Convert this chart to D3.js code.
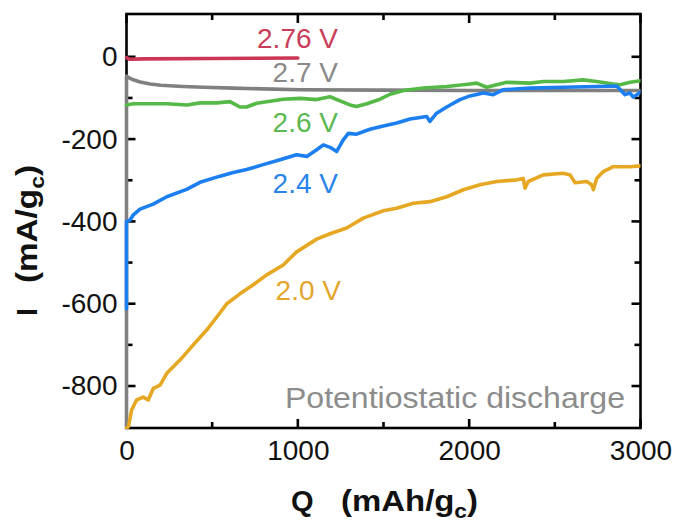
<!DOCTYPE html>
<html>
<head>
<meta charset="utf-8">
<script src="https://cdn.jsdelivr.net/npm/d3@7"></script>
<style>
  body { margin: 0; background: #fff; }
  svg text { font-family: "Liberation Sans", Arial, sans-serif; }
</style>
</head>
<body>
<div id="chart"></div>
<script>
// 1. Data (Q in mAh/gc, I in mA/gc)
const q276 = [0, 20, 100, 500, 1000];
const i276 = [-2, -6, -5, -4, -3];

const q27 = [0, 0, 10, 40, 80, 137, 200, 330, 450, 623, 800, 1013, 1500, 2000, 2500, 3000];
const i27 = [-902, -47, -50, -56, -61, -66, -69, -72, -74, -76, -78, -80, -81, -82, -82, -82];

const q26 = [0, 40, 236, 353, 430, 527, 604, 662, 701, 759, 818, 915, 1013, 1110, 1188, 1246, 1304, 1343, 1402, 1480,
  1538, 1616, 1732, 1869, 2005, 2044, 2102, 2161, 2219, 2355, 2433, 2550, 2666, 2744, 2841, 2880, 2939, 3000];
const i26 = [-117, -114, -114, -117, -112, -112, -109, -122, -122, -113, -109, -103, -101, -104, -97, -107, -117, -121, -114, -103,
  -91, -82, -76, -72, -66, -64, -74, -68, -62, -64, -60, -60, -56, -60, -66, -68, -62, -58];

const q24 = [0, 0, 20, 40, 79, 156, 235, 351, 429, 546, 623, 701, 798, 896, 993, 1052, 1110, 1149, 1188, 1227, 1265, 1295,
  1343, 1421, 1499, 1577, 1655, 1752, 1771, 1810, 1869, 1946, 2005, 2083, 2141, 2199, 2355, 2550, 2744, 2861, 2910, 2939, 2958, 3000];
const i24 = [-612, -400, -397, -384, -370, -358, -340, -322, -305, -290, -281, -274, -262, -250, -238, -242, -226, -214, -220, -230, -202, -186,
  -188, -176, -168, -161, -151, -145, -157, -137, -122, -104, -95, -88, -92, -80, -76, -74, -72, -71, -92, -88, -98, -86];

const q20 = [0, 11, 30, 59, 98, 127, 156, 196, 235, 312, 390, 468, 546, 585, 662, 740, 818, 915, 993, 1110, 1188, 1285, 1382, 1499,
  1577, 1674, 1771, 1869, 1966, 2063, 2161, 2278, 2316, 2326, 2345, 2433, 2550, 2589, 2618, 2686, 2715, 2725, 2744, 2783, 2841, 2939, 3000];
const i20 = [-902, -899, -858, -834, -827, -834, -806, -798, -769, -737, -700, -664, -622, -600, -576, -554, -530, -506, -474, -443, -430, -416, -392, -374,
  -368, -356, -352, -340, -323, -311, -303, -299, -296, -319, -303, -287, -283, -287, -306, -303, -311, -323, -296, -279, -267, -267, -265];

const seriesNames = ["2.76 V", "2.7 V", "2.6 V", "2.4 V", "2.0 V"];
const seriesColors = ["#cc3553", "#808080", "#55b947", "#1b7ff0", "#e6a822"];
const labelColors = ["#c93d58", "#8a8a8a", "#5cb850", "#2a85ea", "#e3a62c"];

const xMajor = [0, 1000, 2000, 3000];
const xMinor = [500, 1500, 2500];
const yMajor = [0, -200, -400, -600, -800];
const yMinor = [-100, -300, -500, -700];

// 2. Layout
const W = 673, H = 521;
const mLeft = 126.5, mRight = 640.5, mTop = 14, mBottom = 428;

const x = d3.scaleLinear().domain([0, 3000]).range([mLeft, mRight]);
const y = d3.scaleLinear().domain([-902, 104]).range([mBottom, mTop]);

const svg = d3.select("#chart").append("svg")
  .attr("width", W).attr("height", H)
  .attr("viewBox", `0 0 ${W} ${H}`);

// clip a little wider than the frame so the curves running on the axis still show
svg.append("defs").append("clipPath").attr("id", "plot")
  .append("rect").attr("x", mLeft - 2.5).attr("y", mTop)
  .attr("width", mRight - mLeft + 2.5).attr("height", mBottom - mTop + 1);

// 3. Tick labels from the d3 axes, tick marks drawn inward on all sides
const labelStyle = (g) => {
  g.select(".domain").remove();
  g.selectAll(".tick line").remove();
  g.selectAll(".tick text").attr("font-size", 28).attr("fill", "#111");
};

svg.append("g").attr("transform", `translate(0,${mBottom})`)
  .call(d3.axisBottom(x).tickValues(xMajor).tickSize(0).tickPadding(12).tickFormat((d) => String(d)))
  .call(labelStyle);
svg.append("g").attr("transform", `translate(${mLeft},0)`)
  .call(d3.axisLeft(y).tickValues(yMajor).tickSize(0).tickPadding(9).tickFormat((d) => String(d)))
  .call(labelStyle);

const ticks = svg.append("g").attr("stroke", "#000").attr("stroke-width", 2.6);
const xTicks = xMajor.map((v) => [v, 9]).concat(xMinor.map((v) => [v, 6]));
const yTicks = yMajor.map((v) => [v, 9]).concat(yMinor.map((v) => [v, 6]));

xTicks.forEach(([v, len]) => {
  ticks.append("line").attr("x1", x(v)).attr("x2", x(v)).attr("y1", mBottom).attr("y2", mBottom - len);
  ticks.append("line").attr("x1", x(v)).attr("x2", x(v)).attr("y1", mTop).attr("y2", mTop + len);
});
yTicks.forEach(([v, len]) => {
  ticks.append("line").attr("y1", y(v)).attr("y2", y(v)).attr("x1", mLeft).attr("x2", mLeft + len);
  ticks.append("line").attr("y1", y(v)).attr("y2", y(v)).attr("x1", mRight).attr("x2", mRight - len);
});

// frame
svg.append("rect")
  .attr("x", mLeft).attr("y", mTop)
  .attr("width", mRight - mLeft).attr("height", mBottom - mTop)
  .attr("fill", "none").attr("stroke", "#000").attr("stroke-width", 2.6);

// 4. Curves (drawn over the frame, as in the figure)
const line = d3.line().x((d) => x(d[0])).y((d) => y(d[1]));
const series = [
  d3.zip(q27, i27),
  d3.zip(q276, i276),
  d3.zip(q26, i26),
  d3.zip(q20, i20),
  d3.zip(q24, i24),
];
const order = [1, 0, 2, 4, 3];

const curves = svg.append("g").attr("clip-path", "url(#plot)");
series.forEach((s, k) => {
  curves.append("path")
    .attr("d", line(s))
    .attr("fill", "none")
    .attr("stroke", seriesColors[order[k]])
    .attr("stroke-width", 3.6)
    .attr("stroke-linejoin", "round")
    .attr("stroke-linecap", "round");
});

// 5. Series labels
const labelPos = [[338, 48], [338, 82], [338, 132], [338, 193], [341, 300]];
seriesNames.forEach((name, k) => {
  svg.append("text")
    .attr("x", labelPos[k][0]).attr("y", labelPos[k][1])
    .attr("text-anchor", "end")
    .attr("font-size", 28)
    .attr("fill", labelColors[k])
    .text(name);
});

svg.append("text")
  .attr("x", 285).attr("y", 408)
  .attr("font-size", 29)
  .attr("fill", "#8c8c8c")
  .attr("textLength", 340)
  .attr("lengthAdjust", "spacingAndGlyphs")
  .text("Potentiostatic discharge");

// 6. Axis titles
svg.append("text")
  .attr("x", 291).attr("y", 511)
  .attr("font-size", 29).attr("font-weight", "bold").attr("fill", "#111")
  .text("Q");
const xt = svg.append("text")
  .attr("x", 341).attr("y", 511)
  .attr("font-size", 29).attr("font-weight", "bold").attr("fill", "#111")
  .attr("textLength", 137).attr("lengthAdjust", "spacingAndGlyphs");
xt.append("tspan").text("(mAh/g");
xt.append("tspan").attr("font-size", 20).attr("dy", 7).text("c");
xt.append("tspan").attr("dy", -7).text(")");

const yAxisTitle = svg.append("g").attr("transform", "translate(37,316) rotate(-90)");
yAxisTitle.append("text")
  .attr("font-size", 29).attr("font-weight", "bold").attr("fill", "#111")
  .text("I");
const yt = yAxisTitle.append("text")
  .attr("x", 33)
  .attr("font-size", 29).attr("font-weight", "bold").attr("fill", "#111")
  .attr("textLength", 118).attr("lengthAdjust", "spacingAndGlyphs");
yt.append("tspan").text("(mA/g");
yt.append("tspan").attr("font-size", 20).attr("dy", 7).text("c");
yt.append("tspan").attr("dy", -7).text(")");
</script>
</body>
</html>
